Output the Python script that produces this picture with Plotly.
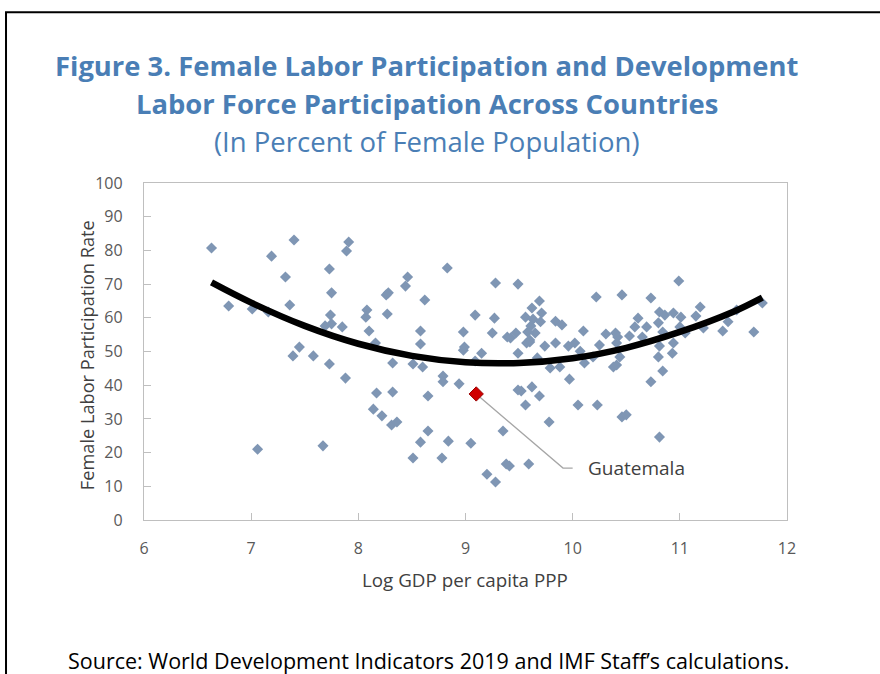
import plotly.graph_objects as go

# ---- data ----
log_gdp = [6.63, 6.79, 7.01, 7.06, 7.16, 7.19, 7.32, 7.36, 7.40, 7.39, 7.45, 7.58, 7.73, 7.88, 7.67,
           8.17, 8.32, 8.14, 8.22, 8.31, 8.36, 8.32, 8.16, 8.58, 8.51, 8.60, 8.79, 8.79, 8.94, 8.65,
           8.65, 8.58, 8.84, 8.51, 8.78, 8.98, 7.91, 7.89, 7.73, 7.75, 7.74, 7.69, 7.75, 7.85, 8.08,
           8.07, 8.10, 8.26, 8.28, 8.27, 8.44, 8.46, 8.62, 8.58, 8.83, 8.98, 9.28, 9.49, 9.69, 9.62,
           9.09, 9.27, 9.56, 9.63, 9.71, 9.70, 9.84, 9.90, 9.61, 9.65, 9.25, 9.39, 9.42, 9.47, 9.60,
           9.57, 10.10, 10.22, 10.46, 10.31, 10.40, 9.74, 9.84, 9.96, 10.02, 10.25, 8.99, 9.15, 9.09,
           9.49, 10.07, 10.11, 10.19, 10.38, 10.41, 9.67, 9.79, 9.88, 9.97, 9.49, 9.52, 9.62, 9.69,
           9.56, 10.05, 10.23, 10.46, 9.78, 9.35, 9.05, 9.41, 9.38, 9.59, 9.20, 9.28, 10.73, 10.99,
           11.19, 11.15, 10.81, 10.86, 10.94, 11.01, 10.61, 10.58, 10.69, 10.80, 10.53, 10.65, 10.84,
           11.00, 11.05, 11.22, 11.45, 11.40, 11.53, 11.77, 11.69, 10.81, 10.94, 10.80, 10.93, 10.84,
           10.73, 10.50, 10.81, 10.42, 10.41, 10.44, 9.58, 9.60]
flfp = [80.7, 63.5, 62.6, 21.0, 61.7, 78.3, 72.1, 63.8, 83.1, 48.7, 51.3, 48.7, 46.3, 42.1, 22.0,
        37.7, 38.0, 32.9, 30.9, 28.2, 29.1, 46.6, 52.5, 52.2, 46.3, 45.4, 42.7, 41.0, 40.4, 36.8,
        26.4, 23.1, 23.4, 18.4, 18.4, 50.4, 82.5, 79.8, 74.5, 67.4, 60.8, 57.6, 58.2, 57.3, 62.3,
        60.2, 56.1, 66.8, 67.4, 61.1, 69.4, 72.1, 65.3, 56.1, 74.8, 55.8, 70.3, 70.0, 65.0, 62.9,
        60.8, 59.9, 60.2, 59.6, 61.4, 58.8, 59.0, 57.9, 57.6, 55.5, 55.5, 54.3, 54.0, 55.5, 52.8,
        52.5, 56.1, 66.2, 66.8, 55.2, 55.5, 51.6, 52.5, 51.6, 52.5, 51.9, 51.3, 49.5, 47.2,
        49.5, 50.1, 46.6, 48.4, 45.4, 46.0, 48.1, 45.1, 45.4, 41.8, 38.6, 38.3, 39.5, 36.8,
        34.1, 34.1, 34.1, 30.6, 29.1, 26.4, 22.8, 16.0, 16.6, 16.6, 13.6, 11.3, 65.9, 70.9,
        63.2, 60.5, 61.7, 60.8, 61.4, 60.2, 59.9, 57.3, 57.3, 58.5, 54.6, 54.3, 55.8,
        57.3, 55.5, 57.0, 58.8, 56.1, 62.3, 64.4, 55.8, 51.6, 52.5, 48.4, 49.5, 44.2,
        41.0, 31.2, 24.6, 54.3, 52.5, 48.4, 55.8, 53.4]

guatemala_x = [9.10]
guatemala_y = [37.4]
guatemala_label = "Guatemala"

trend_x = [6.63, 7.0, 7.5, 8.0, 8.5, 9.0, 9.5, 10.0, 10.5, 11.0, 11.5, 11.77]
trend_y = [70.5, 64.5, 57.6, 52.3, 48.7, 46.8, 46.6, 48.0, 51.1, 55.8, 61.8, 66.0]

x_ticks = [6, 7, 8, 9, 10, 11, 12]
y_ticks = [0, 10, 20, 30, 40, 50, 60, 70, 80, 90, 100]

FONT = "Open Sans"
TITLE_BLUE = "#4A7EB5"
GREY = "#595959"

fig = go.Figure()
fig.add_trace(go.Scatter(
    x=log_gdp, y=flfp, mode="markers",
    marker=dict(symbol="diamond", size=8.5, color="#7F96B4", line=dict(width=0)),
    hoverinfo="x+y", showlegend=False))
fig.add_trace(go.Scatter(
    x=trend_x, y=trend_y, mode="lines",
    line=dict(color="black", width=6.5, shape="spline"),
    hoverinfo="skip", showlegend=False))
fig.add_trace(go.Scatter(
    x=guatemala_x, y=guatemala_y, mode="markers",
    marker=dict(symbol="diamond", size=11, color="#D00000", line=dict(width=1, color="#9A0000")),
    showlegend=False))

# leader line for the Guatemala label
elbow_x, elbow_y, end_x = 9.91, 15.4, 10.0
fig.add_shape(type="path", xref="x", yref="y",
              path=f"M {guatemala_x[0]} {guatemala_y[0]} L {elbow_x} {elbow_y} L {end_x} {elbow_y}",
              line=dict(color="#A6A6A6", width=1.3), layer="below")
fig.add_annotation(x=end_x + 0.12, y=elbow_y, xref="x", yref="y", text=guatemala_label,
                   showarrow=False, xanchor="left", yanchor="middle",
                   font=dict(family=FONT, size=19, color="#404040"))

# outer frame
fig.add_shape(type="rect", xref="paper", yref="paper",
              x0=-0.2146, x1=1.3, y0=-0.7, y1=1.507,
              line=dict(color="black", width=2))

# titles
fig.add_annotation(x=0.44, y=1.350, xref="paper", yref="paper", showarrow=False,
                   text="<b>Figure 3. Female Labor Participation and Development</b>",
                   font=dict(family=FONT, size=27.4, color=TITLE_BLUE), yanchor="middle")
fig.add_annotation(x=0.44, y=1.237, xref="paper", yref="paper", showarrow=False,
                   text="<b>Labor Force Participation Across Countries</b>",
                   font=dict(family=FONT, size=27.4, color=TITLE_BLUE), yanchor="middle")
fig.add_annotation(x=0.44, y=1.122, xref="paper", yref="paper", showarrow=False,
                   text="(In Percent of Female Population)",
                   font=dict(family=FONT, size=27.5, color=TITLE_BLUE), yanchor="middle")

# axis titles
fig.add_annotation(x=-0.110, y=0.49, xref="paper", yref="paper", showarrow=False,
                   text="Female Labor Participation Rate", textangle=-90,
                   font=dict(family=FONT, size=18.2, color="#404040"))
fig.add_annotation(x=0.4995, y=-0.178, xref="paper", yref="paper", showarrow=False,
                   text="Log GDP per capita PPP", yanchor="middle",
                   font=dict(family=FONT, size=18.8, color="#404040"))

# source
fig.add_annotation(x=-0.1213, y=-0.418, xref="paper", yref="paper", showarrow=False,
                   text="Source: World Development Indicators 2019 and IMF Staff\u2019s calculations.",
                   xanchor="left", yanchor="middle",
                   font=dict(family=FONT, size=21.5, color="black"))

fig.update_xaxes(range=[6, 12], tickvals=x_ticks, ticks="inside", ticklen=7, tickcolor="#BFBFBF",
                 showgrid=False, zeroline=False, showline=True, linecolor="#BFBFBF", linewidth=1.3,
                 mirror=True, tickfont=dict(family=FONT, size=16, color=GREY), ticklabelstandoff=14)
fig.update_yaxes(range=[0, 100], tickvals=y_ticks, ticks="inside", ticklen=7, tickcolor="#BFBFBF",
                 showgrid=False, zeroline=False, showline=True, linecolor="#BFBFBF", linewidth=1.3,
                 mirror=True, tickfont=dict(family=FONT, size=16, color=GREY), ticklabelstandoff=17)

fig.update_layout(width=880, height=674, margin=dict(l=144, r=93, t=183, b=154),
                  paper_bgcolor="white", plot_bgcolor="white", showlegend=False)

fig.write_html("out.html", config={"displayModeBar": False},
               post_script="document.body.style.margin='0';")
